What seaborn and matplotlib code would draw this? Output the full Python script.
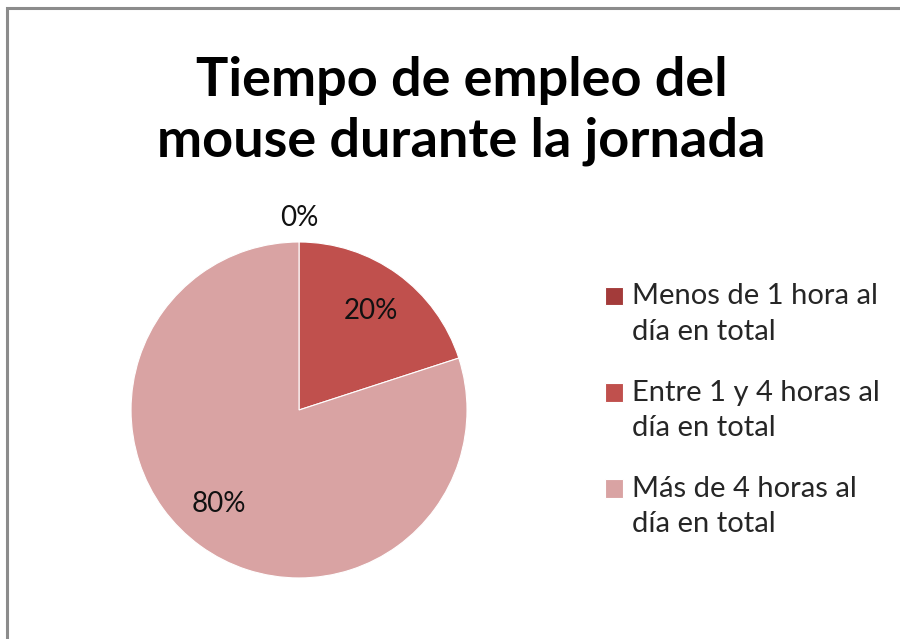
import matplotlib
matplotlib.use("Agg")
import matplotlib.pyplot as plt
import seaborn as sns
from matplotlib.patches import Rectangle
from matplotlib.legend_handler import HandlerPatch

# Data
categories = ['Menos de 1 hora al\ndía en total',
              'Entre 1 y 4 horas al\ndía en total',
              'Más de 4 horas al\ndía en total']
values = [0, 20, 80]
colors = ['#A33B3A', '#C0504D', '#D9A3A3']
title = 'Tiempo de empleo del\nmouse durante la jornada'

sns.set_theme(style='white')
plt.rcParams['font.family'] = ['Lato', 'DejaVu Sans']

fig = plt.figure(figsize=(9, 6.39), dpi=100)
fig.patch.set_facecolor('white')

# gray frame on left / top like the screenshot
fig.patches.append(Rectangle((0.008, -0.1), 1.2, 1.088, transform=fig.transFigure,
                             fill=False, edgecolor='#8c8c8c', linewidth=2.2))

ax = fig.add_axes([0.1456, 0.0955, 0.3733, 0.5258])
wedges, texts, autotexts = ax.pie(values, colors=colors, startangle=90, counterclock=False,
                                  autopct='%1.0f%%', pctdistance=0.73,
                                  wedgeprops=dict(linewidth=0.8, edgecolor='white'),
                                  textprops=dict(fontsize=20, color='#111111'))
ax.set_xlim(-1, 1)
ax.set_ylim(-1, 1)
ax.set_aspect('equal')

# label placement tweaks (0% sits outside the pie)
autotexts[0].set_position((0, 1.14))
autotexts[2].set_position((-0.48, -0.56))
for t in autotexts:
    t.set_clip_on(False)

fig.text(0.513, 0.826, title, ha='center', va='center', fontsize=39, fontweight='bold',
         linespacing=1.3, color='black')


# legend squares sit next to the first line of each label
def top_square(legend, orig_handle, xdescent, ydescent, width, height, fontsize):
    return Rectangle((-xdescent, -ydescent + 0.62 * fontsize), width, height)


leg = fig.legend(wedges, categories, loc='upper left', bbox_to_anchor=(0.672, 0.557),
                 frameon=False, fontsize=21, handlelength=0.62, handleheight=0.62,
                 handletextpad=0.31, labelspacing=1.2, borderpad=0, borderaxespad=0,
                 handler_map={w: HandlerPatch(patch_func=top_square) for w in wedges})
for t in leg.get_texts():
    t.set_linespacing(1.45)

fig.savefig('out.png', dpi=100)
